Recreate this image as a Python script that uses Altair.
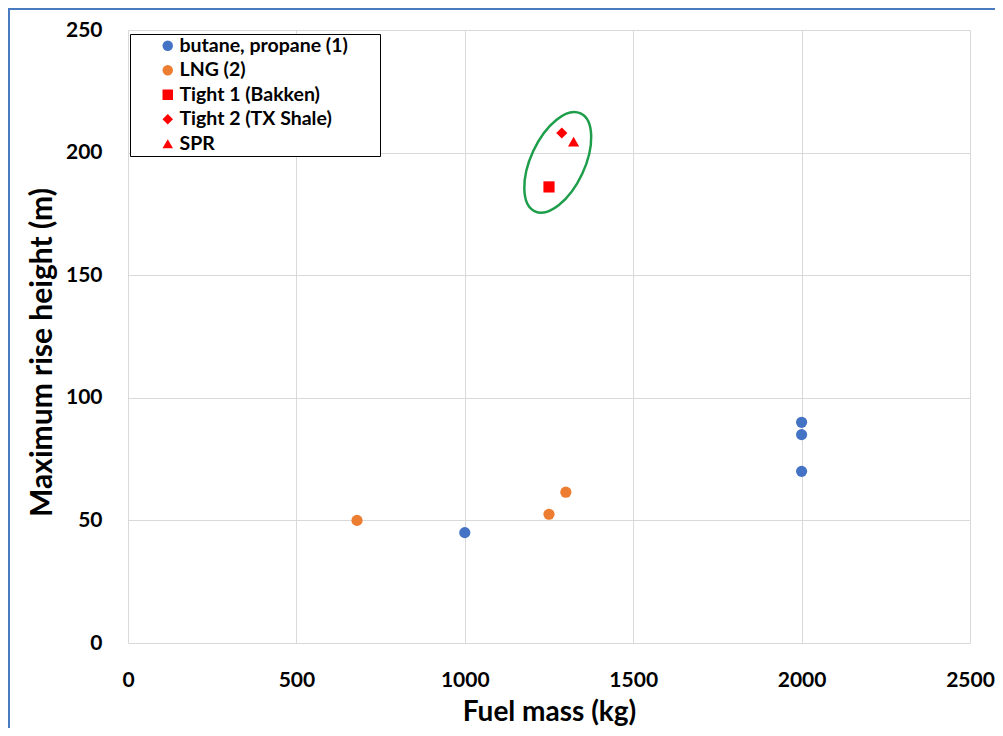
import altair as alt
import pandas as pd

# ---- data ----
series = ["butane, propane (1)", "LNG (2)", "Tight 1 (Bakken)", "Tight 2 (TX Shale)", "SPR"]
colors = ["#4472C4", "#ED7D31", "#FF0000", "#FF0000", "#FF0000"]
shapes = ["circle", "circle", "square", "diamond", "triangle-up"]

butane_mass = [1000, 2000, 2000, 2000]
butane_height = [45, 90, 85, 70]
lng_mass = [680, 1250, 1300]
lng_height = [50, 52.5, 61.5]
tight1_mass = [1250]
tight1_height = [186]
tight2_mass = [1288]
tight2_height = [208]
spr_mass = [1323]
spr_height = [204.5]

x_ticks = [0, 500, 1000, 1500, 2000, 2500]
y_ticks = [0, 50, 100, 150, 200, 250]

# annotation ellipse (centre in data units)
ellipse_center_mass = [1276]
ellipse_center_height = [196]

rows = []
for name, xs, ys in [
    (series[0], butane_mass, butane_height),
    (series[1], lng_mass, lng_height),
    (series[2], tight1_mass, tight1_height),
    (series[3], tight2_mass, tight2_height),
    (series[4], spr_mass, spr_height),
]:
    for xv, yv in zip(xs, ys):
        rows.append({"series": name, "mass": xv, "height": yv})
df = pd.DataFrame(rows)

ell_df = pd.DataFrame({"mass": ellipse_center_mass, "height": ellipse_center_height})

FONT = "Lato"

xscale = alt.Scale(domain=[0, 2500], nice=False, zero=True)
yscale = alt.Scale(domain=[0, 250], nice=False, zero=True)

points = alt.Chart(df).mark_point(filled=True, size=125, opacity=1).encode(
    x=alt.X("mass:Q", scale=xscale, title="Fuel mass (kg)",
            axis=alt.Axis(values=x_ticks, format="d", labelFlush=False,
                          labelPadding=26, titlePadding=8, titleFontSize=28)),
    y=alt.Y("height:Q", scale=yscale, title="Maximum rise height (m)",
            axis=alt.Axis(values=y_ticks, format="d", labelPadding=26,
                          titlePadding=8, titleY=322, titleFontSize=30)),
    color=alt.Color("series:N", scale=alt.Scale(domain=series, range=colors),
                    legend=alt.Legend(title=None)),
    shape=alt.Shape("series:N", scale=alt.Scale(domain=series, range=shapes),
                    legend=alt.Legend(title=None)),
)

k = 0.5523
rx = 0.5
ellipse_path = (
    f"M0,-1 C{k*rx:.3f},-1 {rx},-{k} {rx},0 C{rx},{k} {k*rx:.3f},1 0,1 "
    f"C-{k*rx:.3f},1 -{rx},{k} -{rx},0 C-{rx},-{k} -{k*rx:.3f},-1 0,-1 Z"
)

ellipse = alt.Chart(ell_df).mark_point(
    shape=ellipse_path, filled=False, stroke="#1E9E4A", strokeWidth=2.5,
    size=11664, angle=25, opacity=1
).encode(
    x=alt.X("mass:Q", scale=xscale),
    y=alt.Y("height:Q", scale=yscale),
)

one = pd.DataFrame({"a": [0]})

frame = alt.Chart(one).mark_rect(
    fillOpacity=0, stroke="#4A7AC0", strokeWidth=2
).encode(
    x=alt.value(-119), x2=alt.value(900), y=alt.value(-21), y2=alt.value(740)
)

legend_box = alt.Chart(one).mark_rect(
    fill="white", stroke="black", strokeWidth=1
).encode(
    x=alt.value(2.5), x2=alt.value(252.5), y=alt.value(4.5), y2=alt.value(126.5)
)

chart = alt.layer(frame, legend_box, points, ellipse).properties(
    width=842, height=613,
    autosize=alt.AutoSizeParams(type="none"),
    padding={"left": 120, "top": 22, "right": 25, "bottom": 85},
    background="white",
).configure_view(strokeWidth=0).configure_axis(
    grid=True, gridColor="#D9D9D9", gridWidth=1, domain=False, ticks=False,
    labelFont=FONT, labelFontSize=21, labelFontWeight="bold", labelColor="black",
    titleFont=FONT, titleFontWeight="bold", titleColor="black",
).configure_legend(
    orient="none", legendX=2, legendY=4,
    padding=2, rowPadding=3.5, symbolOffset=26, labelOffset=2,
    labelFont=FONT, labelFontSize=19.5, labelFontWeight="bold", labelColor="black",
    labelLimit=400, symbolSize=110, symbolStrokeWidth=0,
)

chart.save("out.html", embed_options={"renderer": "svg", "actions": False})
